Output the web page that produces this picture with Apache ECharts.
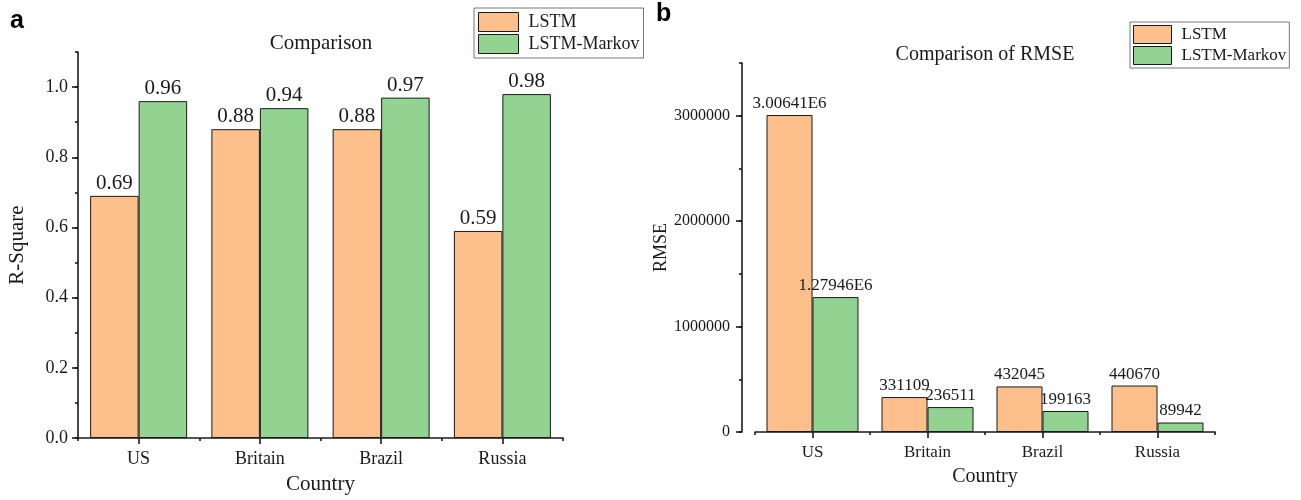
<!DOCTYPE html>
<html>
<head>
<meta charset="utf-8">
<script src="https://cdn.jsdelivr.net/npm/echarts@6/dist/echarts.min.js"></script>
<style>
html,body{margin:0;padding:0;background:#fff;}
#chart{width:1301px;height:500px;}
</style>
</head>
<body>
<div id="chart"></div>
<script>
// ---- data ----
var countries = ['US', 'Britain', 'Brazil', 'Russia'];
var seriesNames = ['LSTM', 'LSTM-Markov'];
var r2Lstm = [0.69, 0.88, 0.88, 0.59];
var r2Markov = [0.96, 0.94, 0.97, 0.98];
var rmseLstm = [3006410, 331109, 432045, 440670];
var rmseMarkov = [1279460, 236511, 199163, 89942];
var r2TickValues = [0, 0.2, 0.4, 0.6, 0.8, 1.0];
var rmseTickValues = [0, 1000000, 2000000, 3000000];

// ---- styles ----
var SERIF = '"Liberation Serif", "DejaVu Serif", serif';
var ORANGE = '#FDC08D';
var GREEN = '#93D392';
var INK = '#1a1a1a';

function catAxisMain(grid, labelSize, name, nameSize, nameGap, labelMargin) {
  return {
    type: 'category', gridIndex: grid, position: 'bottom', data: countries,
    axisLine: { show: true, lineStyle: { color: INK, width: 1.6 } },
    axisTick: { show: true, alignWithLabel: true, length: 6, lineStyle: { color: INK, width: 1.6 } },
    axisLabel: { show: true, color: INK, fontFamily: SERIF, fontSize: labelSize, margin: labelMargin },
    name: name, nameLocation: 'middle', nameGap: nameGap,
    nameTextStyle: { color: INK, fontFamily: SERIF, fontSize: nameSize },
    splitLine: { show: false }
  };
}
function catAxisMinor(grid) {
  return {
    type: 'category', gridIndex: grid, position: 'bottom', data: countries,
    axisLine: { show: false },
    axisTick: { show: true, length: 3, lineStyle: { color: INK, width: 1.6 } },
    axisLabel: { show: false },
    splitLine: { show: false }
  };
}

var option = {
  animation: false,
  backgroundColor: '#fff',
  title: [
    { text: 'a', left: 10, top: 9, padding: 0, textStyle: { fontFamily: '"Liberation Sans", Arial, sans-serif', fontWeight: 'bold', fontSize: 25, color: '#000' } },
    { text: 'b', left: 656, top: 2, padding: 0, textStyle: { fontFamily: '"Liberation Sans", Arial, sans-serif', fontWeight: 'bold', fontSize: 25, color: '#000' } },
    { text: 'Comparison', left: 321, top: 33, padding: 0, textAlign: 'center', textStyle: { fontFamily: SERIF, fontWeight: 'normal', fontSize: 21, color: INK } },
    { text: 'Comparison of RMSE', left: 985, top: 45, padding: 0, textAlign: 'center', textStyle: { fontFamily: SERIF, fontWeight: 'normal', fontSize: 20, color: INK } }
  ],
  legend: [
    {
      data: seriesNames, orient: 'vertical', left: 474, top: 8,
      padding: [4, 4, 4, 4], itemGap: 2, itemWidth: 40, itemHeight: 19,
      icon: 'rect', borderColor: '#777', borderWidth: 1,
      itemStyle: { borderColor: INK, borderWidth: 1 },
      textStyle: { fontFamily: SERIF, fontSize: 18, color: INK, padding: [0, 0, 0, 5], lineHeight: 19 },
      selectedMode: false
    },
    {
      data: seriesNames, orient: 'vertical', left: 1130, top: 22,
      padding: [3, 3, 3, 3], itemGap: 2, itemWidth: 38, itemHeight: 18,
      icon: 'rect', borderColor: '#777', borderWidth: 1,
      itemStyle: { borderColor: INK, borderWidth: 1 },
      textStyle: { fontFamily: SERIF, fontSize: 17, color: INK, padding: [0, 0, 0, 5], lineHeight: 18 },
      selectedMode: false
    }
  ],
  grid: [
    { left: 78, top: 52, width: 485, height: 391, containLabel: false },
    { left: 755, top: 63, width: 460, height: 369, containLabel: false }
  ],
  xAxis: [
    catAxisMain(0, 18, 'Country', 21, 36, 12),
    catAxisMinor(0),
    catAxisMain(1, 17, 'Country', 20, 35, 12),
    catAxisMinor(1)
  ],
  yAxis: [
    {
      type: 'value', gridIndex: 0, position: 'left', min: 0, max: 1.1, interval: 0.2,
      axisLine: { show: true, lineStyle: { color: INK, width: 1.6 } },
      axisTick: { show: true, length: 6, customValues: r2TickValues, lineStyle: { color: INK, width: 1.6 } },
      axisLabel: { show: true, customValues: r2TickValues, color: INK, fontFamily: SERIF, fontSize: 18, margin: 10,
        formatter: function (v) { return Number(v).toFixed(1); } },
      splitLine: { show: false },
      name: 'R-Square', nameLocation: 'middle', nameGap: 50, nameRotate: 90,
      nameTextStyle: { color: INK, fontFamily: SERIF, fontSize: 21 }
    },
    {
      type: 'value', gridIndex: 0, position: 'left', min: 0, max: 1.1, interval: 0.1,
      axisLine: { show: false },
      axisTick: { show: true, length: 3, lineStyle: { color: INK, width: 1.6 } },
      axisLabel: { show: false }, splitLine: { show: false }
    },
    {
      type: 'value', gridIndex: 1, position: 'left', offset: 13, min: 0, max: 3500000, interval: 1000000,
      axisLine: { show: true, lineStyle: { color: INK, width: 1.6 } },
      axisTick: { show: true, length: 6, customValues: rmseTickValues, lineStyle: { color: INK, width: 1.6 } },
      axisLabel: { show: true, customValues: rmseTickValues, color: INK, fontFamily: SERIF, fontSize: 16, margin: 12,
        formatter: function (v) { return String(Math.round(v)); } },
      splitLine: { show: false },
      name: 'RMSE', nameLocation: 'middle', nameGap: 72, nameRotate: 90,
      nameTextStyle: { color: INK, fontFamily: SERIF, fontSize: 18 }
    },
    {
      type: 'value', gridIndex: 1, position: 'left', offset: 13, min: 0, max: 3500000, interval: 500000,
      axisLine: { show: false },
      axisTick: { show: true, length: 3, lineStyle: { color: INK, width: 1.6 } },
      axisLabel: { show: false }, splitLine: { show: false }
    }
  ],
  series: [
    {
      name: 'LSTM', type: 'bar', xAxisIndex: 0, yAxisIndex: 0, data: r2Lstm,
      barGap: '0%', barCategoryGap: '20%',
      itemStyle: { color: ORANGE, borderColor: INK, borderWidth: 1 },
      label: { show: true, position: 'top', distance: 2, color: INK, fontFamily: SERIF, fontSize: 21,
        formatter: function (p) { return p.value.toFixed(2); } }
    },
    {
      name: 'LSTM-Markov', type: 'bar', xAxisIndex: 0, yAxisIndex: 0, data: r2Markov,
      barGap: '0%', barCategoryGap: '20%',
      itemStyle: { color: GREEN, borderColor: INK, borderWidth: 1 },
      label: { show: true, position: 'top', distance: 2, color: INK, fontFamily: SERIF, fontSize: 21,
        formatter: function (p) { return p.value.toFixed(2); } }
    },
    {
      name: 'LSTM', type: 'bar', xAxisIndex: 2, yAxisIndex: 2, data: rmseLstm,
      barGap: '0%', barCategoryGap: '20%',
      itemStyle: { color: ORANGE, borderColor: INK, borderWidth: 1 },
      label: { show: true, position: 'top', distance: 3, color: INK, fontFamily: SERIF, fontSize: 17,
        formatter: function (p) { return p.value >= 1000000 ? (p.value / 1000000) + 'E6' : String(p.value); } }
    },
    {
      name: 'LSTM-Markov', type: 'bar', xAxisIndex: 2, yAxisIndex: 2, data: rmseMarkov,
      barGap: '0%', barCategoryGap: '20%',
      itemStyle: { color: GREEN, borderColor: INK, borderWidth: 1 },
      label: { show: true, position: 'top', distance: 3, color: INK, fontFamily: SERIF, fontSize: 17,
        formatter: function (p) { return p.value >= 1000000 ? (p.value / 1000000) + 'E6' : String(p.value); } }
    }
  ]
};

var chart = echarts.init(document.getElementById('chart'), null, { renderer: 'canvas' });
chart.setOption(option);
</script>
</body>
</html>
